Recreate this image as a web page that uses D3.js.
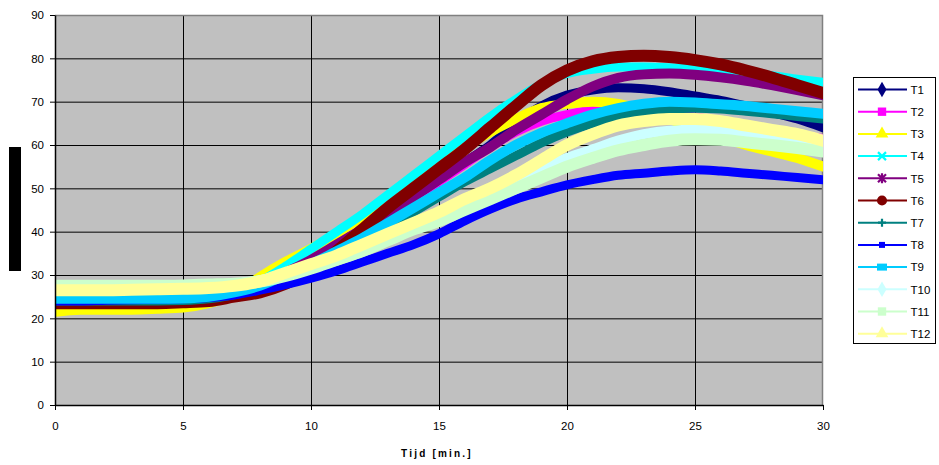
<!DOCTYPE html>
<html>
<head>
<meta charset="utf-8">
<script src="https://cdn.jsdelivr.net/npm/d3@7"></script>
<style>
    body { margin: 0; background: #fff; }
    text { font-family: "Liberation Sans", Arial, sans-serif; }
</style>
</head>
<body>
<svg id="chart" width="939" height="465"></svg>
<script>
// time in minutes
const minutes = [0,1,2,3,4,5,6,7,8,9,10,11,12,13,14,15,16,17,18,19,20,21,22,23,24,25,26,27,28,29,30];

// temperatures, one value per minute
const t1  = [24,24,24,24,24,24.2,24.6,25.5,27.5,30.5,33.5,37,40.5,44,48,52,56,60,65,69,71.5,72.7,73.2,73,72.3,71.3,70.3,69,67.5,66,64];
const t2  = [23,23,23,23,23,23.2,23.8,25,27,30,33,36.5,40,43.5,47.5,51.5,55.5,59.5,63,65.5,67,68,68.2,68,67.5,66.5,65.5,64.5,63.5,62.5,61.5];
const t3  = [21.5,22,22,22,22.2,22.5,23.5,25.5,29.5,33,36,39.5,43.5,47.5,51.5,55.5,59.5,63,66,68.5,69.5,70,69.5,68,66,64,62,60,58.5,57,55];
const t4  = [25,25,25,25,25,25.2,25.5,26.5,28.5,32,36,40,44,48.5,53,57.5,62,66.5,70.5,74,76.5,77.5,78,78,77.8,77.5,77,76.5,76,75.2,74.5];
const t5  = [24,24,24,24,24,24.2,24.5,25.5,27.5,30.5,33.5,37,40.5,44,48,52,56,59.5,63.5,67,70.5,73.5,75.5,76.3,76.5,76.2,75.6,74.8,73.8,72.7,71.5];
const t6  = [23.5,23.5,23.5,23.5,23.5,23.7,24,25,26,28,31,35.5,40.5,45.5,50,54.5,59,64,69,73.8,77.2,79.3,80.3,80.6,80.3,79.6,78.6,77.2,75.6,73.8,72];
const t7  = [24,24,24,24,24,24.1,24.5,25.5,27,29.5,32,35,38,41,44.5,48,51.5,54.5,57.5,60.5,63,65,66.5,67.5,68.3,68.5,68.3,67.8,67.2,66.6,66];
const t8  = [24,24,24.2,24.3,24.4,24.5,24.8,25.4,26.5,27.8,29.3,31,33,35,37,39.5,42.5,45.2,47.5,49.2,50.8,52,53,53.5,54,54.3,54,53.5,53,52.5,52];
const t9  = [24.5,24.5,24.5,24.5,24.5,24.6,25,26,27.5,30,32.5,35.5,38.5,42,45.5,49,52.5,56.5,60,62.8,65,67,68.5,69.5,70,69.8,69.4,69,68.4,67.8,67.2];
const t10 = [27.5,27.5,27.5,27.5,27.5,27.6,27.8,28,28.8,30.2,32,34,36.5,39,41.5,44,46.5,49,52,54.5,57,59,61,62.5,63.3,63.5,63.3,62.8,62,61.2,60.3];
const t11 = [27.5,27.5,27.5,27.5,27.5,27.6,27.8,28,28.5,29.8,31.5,33.5,35.5,38,40.5,42.5,45,47.5,50,52.5,55,57,58.8,60,61,61.3,61.2,60.6,60,59.3,58.5];
const t12 = [26.5,26.5,26.5,26.6,26.7,26.8,27,27.5,28.5,30.5,32.5,34.5,37,39.5,42,44.5,47.5,50,53,56.5,60,62.5,64.5,65.5,66,66,65.5,64.5,63.5,62.5,61];

const seriesNames = ["T1","T2","T3","T4","T5","T6","T7","T8","T9","T10","T11","T12"];
const seriesValues = [t1,t2,t3,t4,t5,t6,t7,t8,t9,t10,t11,t12];
const colors = ["#000080","#ff00ff","#ffff00","#00ffff","#800080","#800000","#008080","#0000ff","#00ccff","#ccffff","#ccffcc","#ffff99"];
const markers = ["diamond","square","triangle","x","star","circle","plus","smallsquare","rect","diamond","square","triangle"];
const bandWidths = [9,9,10,9,10,12,9,9,10,10,12,12];

const xTicks = [0,5,10,15,20,25,30];
const yTicks = [0,10,20,30,40,50,60,70,80,90];

const margin = { top: 15, left: 55 };
const plotW = 768, plotH = 390;

let svg = d3.select("#chart");

let x = d3.scaleLinear().domain([0, 30]).range([margin.left, margin.left + plotW]);
let y = d3.scaleLinear().domain([0, 90]).range([margin.top + plotH, margin.top]);

// plot background
svg.append("rect")
    .attr("x", x(0)).attr("y", y(90))
    .attr("width", x(30) - x(0)).attr("height", y(0) - y(90))
    .attr("fill", "#c0c0c0");

// clip so the thick bands stay inside the plot
svg.append("clipPath").attr("id", "plotClip")
    .append("rect")
    .attr("x", x(0)).attr("y", y(90))
    .attr("width", x(30) - x(0)).attr("height", y(0) - y(90));

// grid
svg.append("g").selectAll("line")
    .data(yTicks.filter(d => d > 0 && d < 90))
    .join("line")
    .attr("x1", x(0)).attr("x2", x(30))
    .attr("y1", d => y(d) + 0.5).attr("y2", d => y(d) + 0.5)
    .attr("stroke", "#000").attr("stroke-width", 1);

svg.append("g").selectAll("line")
    .data(xTicks.filter(d => d > 0 && d < 30))
    .join("line")
    .attr("x1", d => x(d) + 0.5).attr("x2", d => x(d) + 0.5)
    .attr("y1", y(90)).attr("y2", y(0))
    .attr("stroke", "#000").attr("stroke-width", 1);

// top and right border
svg.append("path")
    .attr("d", `M${x(0)},${y(90) + 0.5}H${x(30) - 0.5}V${y(0)}`)
    .attr("fill", "none").attr("stroke", "#808080").attr("stroke-width", 1.5);

// series
let line = d3.line()
    .x((d, i) => x(minutes[i]))
    .y(d => y(d))
    .curve(d3.curveMonotoneX);

let bands = svg.append("g").attr("clip-path", "url(#plotClip)");
seriesValues.forEach((vals, i) => {
    bands.append("path")
        .datum(vals)
        .attr("fill", "none")
        .attr("stroke", colors[i])
        .attr("stroke-width", bandWidths[i])
        .attr("stroke-linejoin", "round")
        .attr("stroke-linecap", "round")
        .attr("d", line);
});

// Y axis
let yAxis = svg.append("g")
    .attr("transform", "translate(" + x(0) + ",0)")
    .call(d3.axisLeft(y).tickValues(yTicks).tickSize(5).tickPadding(6).tickSizeOuter(0));
yAxis.select(".domain").attr("stroke", "#000").attr("stroke-width", 1.5);
yAxis.selectAll("text").attr("font-size", "11.5px").attr("fill", "#000")
    .style("font-family", '"Liberation Sans", Arial, sans-serif');

// X axis
let xAxis = svg.append("g")
    .attr("transform", "translate(0," + y(0) + ")")
    .call(d3.axisBottom(x).tickValues(xTicks).tickSize(5).tickPadding(12).tickSizeOuter(0));
xAxis.select(".domain").attr("stroke", "#000").attr("stroke-width", 1.5);
xAxis.selectAll("text").attr("font-size", "11.5px").attr("fill", "#000")
    .style("font-family", '"Liberation Sans", Arial, sans-serif');

// x axis title
svg.append("text")
    .attr("x", 437).attr("y", 457)
    .attr("text-anchor", "middle")
    .attr("font-size", "10px")
    .attr("font-weight", "bold")
    .attr("letter-spacing", "2.2px")
    .text("Tijd [min.]");

// hidden y axis title block
svg.append("rect")
    .attr("x", 9).attr("y", 147)
    .attr("width", 12).attr("height", 124)
    .attr("fill", "#000");

// legend
function markerPath(kind) {
    switch (kind) {
        case "diamond": return d3.symbol(d3.symbolDiamond, 70)();
        case "square": return d3.symbol(d3.symbolSquare, 70)();
        case "smallsquare": return d3.symbol(d3.symbolSquare, 36)();
        case "rect": return "M-5,-3.5H5V3.5H-5Z";
        case "triangle": return d3.symbol(d3.symbolTriangle, 70)();
        case "circle": return d3.symbol(d3.symbolCircle, 80)();
        case "plus": return "M-4,0H4M0,-4V4";
        case "x": return "M-4,-4L4,4M-4,4L4,-4";
        case "star": return "M-4,-4L4,4M-4,4L4,-4M0,-5V5";
    }
}

let legend = svg.append("g");
legend.append("rect")
    .attr("x", 853.5).attr("y", 77.5)
    .attr("width", 82).attr("height", 266)
    .attr("fill", "#fff").attr("stroke", "#000").attr("stroke-width", 1);

seriesNames.forEach((name, i) => {
    let row = legend.append("g")
        .attr("transform", "translate(0," + (89.5 + i * 22.2) + ")");
    row.append("line")
        .attr("x1", 858).attr("x2", 907)
        .attr("stroke", colors[i]).attr("stroke-width", 2);
    let open = markers[i] === "plus" || markers[i] === "x" || markers[i] === "star";
    row.append("path")
        .attr("transform", "translate(882,0)")
        .attr("d", markerPath(markers[i]))
        .attr("fill", open ? "none" : colors[i])
        .attr("stroke", colors[i])
        .attr("stroke-width", open ? 2.2 : 0);
    row.append("text")
        .attr("x", 910.5).attr("y", 4.2)
        .attr("font-size", "11.5px")
        .attr("fill", "#000")
        .text(name);
});
</script>
</body>
</html>
